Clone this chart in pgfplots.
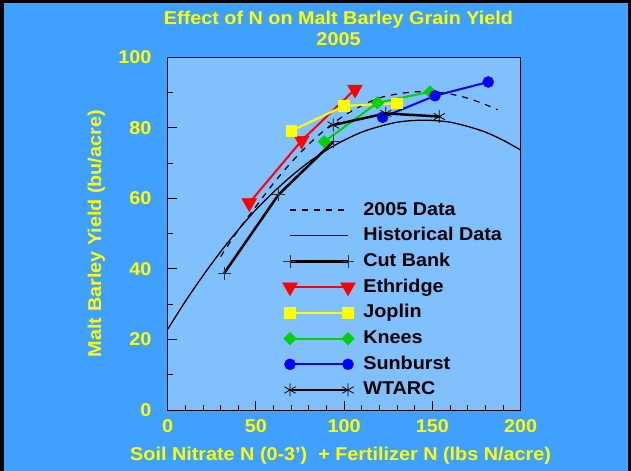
\documentclass[border=0pt]{standalone}
\usepackage{fontspec}
\setmainfont{Liberation Sans}[FakeStretch=1.07]
\usepackage{pgfplots}
\pgfplotsset{compat=1.18}
\definecolor{bgblue}{RGB}{64,160,255}
\definecolor{plotblue}{RGB}{128,192,255}
\definecolor{ttyellow}{RGB}{255,255,0}
\definecolor{kgreen}{RGB}{0,210,0}
\definecolor{sblue}{RGB}{0,0,255}
\definecolor{ered}{RGB}{255,0,0}
\newcommand{\chartfont}{\fontsize{18.5bp}{21bp}\selectfont\bfseries}
\begin{document}
\begin{tikzpicture}
\fill[bgblue] (0bp,0bp) rectangle (631bp,471bp);
\fill[black] (0bp,0bp) rectangle (4bp,471bp);
\fill[black] (0bp,468bp) rectangle (631bp,471bp);
\fill[black] (628bp,0bp) rectangle (631bp,471bp);
\useasboundingbox (0bp,0bp) rectangle (631bp,471bp);
\begin{axis}[
  at={(167.7bp,61bp)}, anchor=south west,
  scale only axis, width=353bp, height=352.7bp,
  xmin=0, xmax=200, ymin=0, ymax=100,
  axis background/.style={fill=plotblue},
  axis line style={black, line width=1bp},
  xtick={0,50,...,200}, minor xtick={10,20,30,40,60,70,80,90,110,120,130,140,160,170,180,190},
  ytick={0,20,...,100}, minor ytick={10,30,50,70,90},
  tick pos=left, xtick pos=left, ytick pos=left, tick align=inside,
  major tick length=9bp, minor tick length=5bp,
  tick style={black, line width=1bp},
  /pgf/number format/assume math mode=true,
  tick label style={font=\chartfont, text=ttyellow, inner sep=0pt},
  xticklabel style={anchor=north, yshift=-9bp},
  yticklabel style={anchor=east, xshift=-16bp},
  title={Effect of N on Malt Barley Grain Yield\\2005},
  title style={at={(0.4839,1.1157)}, anchor=north, align=center, inner sep=0pt, font=\chartfont, text=ttyellow},
  xlabel={Soil Nitrate N (0-3') \ + Fertilizer N (lbs N/acre)},
  xlabel style={at={(0.4898,-0.1035)}, anchor=north, inner sep=0pt, font=\chartfont, text=ttyellow},
  ylabel={Malt Barley Yield (bu/acre)},
  ylabel style={at={(-0.2272,0.5)}, anchor=north, inner sep=0pt, font=\chartfont, text=ttyellow, rotate=0},
  legend style={at={(0.325,0.5957)}, anchor=north west, draw=none, fill=none, inner sep=0pt,
    row sep=5.7bp, column sep=8bp, font=\chartfont,
    nodes={inner sep=0pt, text height=15bp, text depth=5bp}},
  legend cell align=left,
  legend image code/.code={\draw[#1] plot coordinates {(0bp,0bp) (58bp,0bp)};},
]
% 2005 Data (fitted curve)
\addplot[black, line width=1.2bp, dash pattern=on 6bp off 6bp, smooth] coordinates {
 (30,43.5) (40,51) (50,57.7) (60,64.3) (70,70.2) (80,75.4) (90,79.8) (100,83.5)
 (110,86.3) (120,88.5) (130,89.6) (140,90.2) (150,90.2) (160,89.6) (170,88.4) (180,86.6) (187,85.1)};
\addlegendentry{2005 Data}
% Historical Data
\addplot[black, line width=1.3bp, smooth] coordinates {
 (0,22.9) (10,30.8) (20,38.1) (30,44.9) (40,51.1) (50,56.8) (60,61.8) (70,66.3)
 (80,70.3) (90,73.7) (100,76.5) (110,78.8) (120,80.4) (130,81.6) (140,82.1) (150,82.1)
 (160,81.6) (170,80.4) (180,78.8) (190,76.5) (200,73.7)};
\addlegendentry{Historical Data}
% Cut Bank
\addplot[black, line width=2.5bp, mark=+, mark size=6.5bp, mark options={line width=0.8bp, draw=black!80}] coordinates {
 (32,38.8) (62.7,61) (93.8,76.1)};
\addlegendentry{Cut Bank}
% Ethridge
\addplot[ered, line width=2bp, mark=triangle*, mark size=8.5bp, mark options={rotate=180, fill=ered, draw=ered, line width=0.5bp}] coordinates {
 (46.2,58.7) (75.9,76.4) (106.1,90.9)};
\addlegendentry{Ethridge}
% Joplin
\addplot[ttyellow, line width=2bp, mark=square*, mark size=5.3bp, mark options={fill=ttyellow, draw=ttyellow, line width=0.5bp}] coordinates {
 (69.9,79.1) (99.9,86.2) (129.7,87.0)};
\addlegendentry{Joplin}
% Knees
\addplot[kgreen, line width=2bp, mark=square*, mark size=4.4bp, mark options={rotate=45, fill=kgreen, draw=kgreen, line width=0.5bp}] coordinates {
 (88.7,76.1) (118.8,87.1) (148.6,90.2)};
\addlegendentry{Knees}
% Sunburst
\addplot[sblue, line width=2bp, mark=*, mark size=5.5bp, mark options={fill=sblue, draw=sblue, line width=0.5bp}] coordinates {
 (121.8,83.0) (151.4,89.1) (181.6,93.0)};
\addlegendentry{Sunburst}
% WTARC
\addplot[black, line width=2.5bp, mark=asterisk, mark size=6.5bp, mark options={line width=0.8bp}] coordinates {
 (93.8,80.8) (123.5,84.1) (153.9,83.2)};
\addlegendentry{WTARC}
\end{axis}
\end{tikzpicture}
\end{document}
